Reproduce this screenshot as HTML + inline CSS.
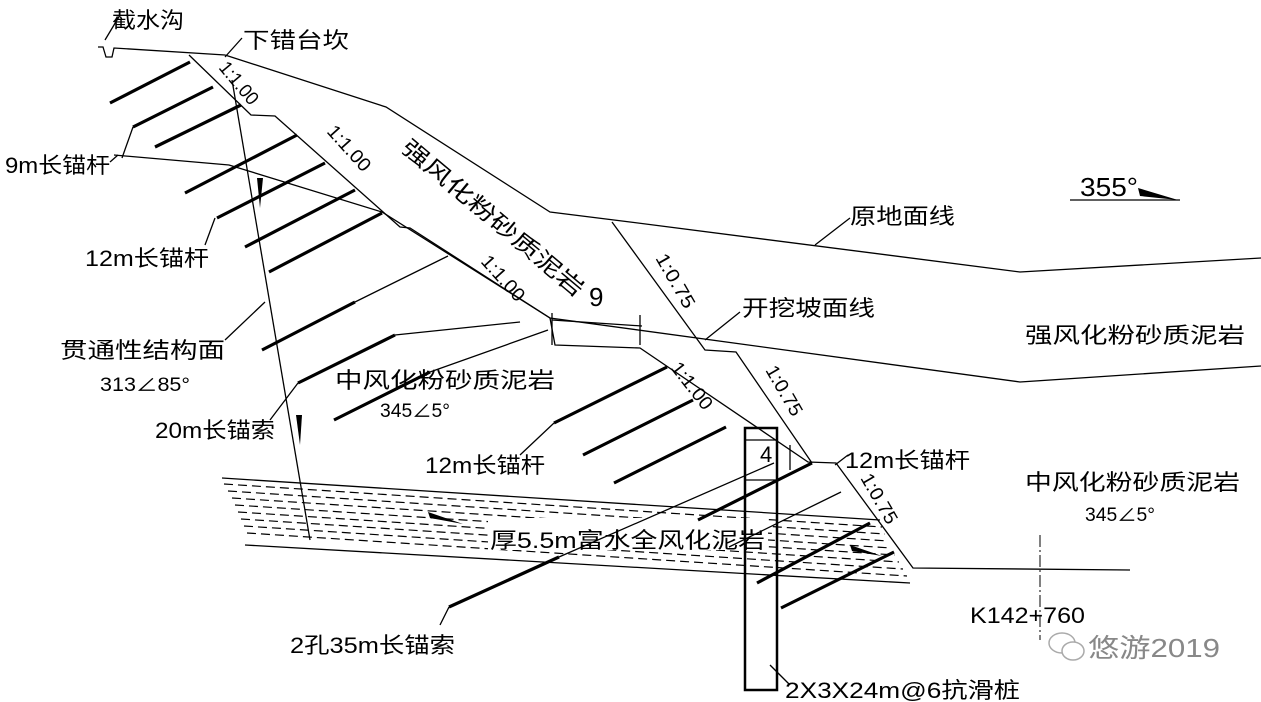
<!DOCTYPE html>
<html><head><meta charset="utf-8"><style>
html,body{margin:0;padding:0;background:#fff;}
svg{display:block;}
text{font-family:"Liberation Sans","Noto Sans CJK SC",sans-serif;fill:#000;}
.l{stroke:#000;stroke-width:1.3;fill:none;}
.t{stroke:#000;stroke-width:3.2;fill:none;}
.d{stroke:#000;stroke-width:1.2;stroke-dasharray:9 5;fill:none;}
</style></head><body>
<svg width="1261" height="702" viewBox="0 0 1261 702" xmlns="http://www.w3.org/2000/svg">
<polyline class="l" points="98,47 103,47 106,57 112,57 114,48 225,55"/>
<polyline class="l" points="225,55 386,107 550,212 630,222 1020,272 1261,258"/>
<polyline class="l" points="189,55 251,115 275,116 400,227 410,228 550,318 555,345 640,348 808,462 836,463 913,568 1130,570"/>
<polyline class="l" points="612,222 705,350 736,352 812,463"/>
<polyline class="l" points="114,155 229,165 382,212 550,318 1020,382 1261,366"/>
<line class="l" x1="552" y1="320" x2="642" y2="326"/>
<line class="l" x1="552" y1="313" x2="552" y2="345"/>
<line class="l" x1="640" y1="315" x2="640" y2="345"/>
<line class="l" x1="232" y1="80" x2="310" y2="540"/>
<polygon points="257,178 263,178 260,208" fill="#000"/>
<polygon points="296,415 302,415 300,445" fill="#000"/>
<g class="d">
<line x1="224" y1="484" x2="882" y2="527"/>
<line x1="228" y1="491" x2="885" y2="534"/>
<line x1="232" y1="498" x2="888" y2="541"/>
<line x1="235" y1="505" x2="891" y2="548"/>
<line x1="238" y1="512" x2="895" y2="555"/>
<line x1="241" y1="519" x2="899" y2="562"/>
<line x1="244" y1="526" x2="903" y2="569"/>
<line x1="247" y1="533" x2="907" y2="576"/>
</g>
<line class="l" x1="222" y1="478" x2="880" y2="520"/>
<line class="l" x1="245" y1="545" x2="910" y2="583"/>
<rect x="488" y="518" width="280" height="32" fill="#fff"/>
<polygon points="428,512 463,524 430,518" fill="#000"/>
<polygon points="850,545 882,556 852,551" fill="#000"/>
<line class="t" x1="110" y1="103" x2="190" y2="62"/>
<line class="t" x1="133" y1="127" x2="213" y2="87"/>
<line class="t" x1="155" y1="147" x2="241" y2="105"/>
<line class="t" x1="185" y1="193" x2="297" y2="135"/>
<line class="t" x1="217" y1="218" x2="325" y2="163"/>
<line class="t" x1="245" y1="247" x2="355" y2="190"/>
<line class="t" x1="269" y1="272" x2="382" y2="213"/>
<line class="t" x1="262" y1="350" x2="355" y2="302"/><line class="l" x1="355" y1="302" x2="448" y2="256"/>
<line class="t" x1="298" y1="383" x2="395" y2="335"/><line class="l" x1="395" y1="335" x2="520" y2="322"/>
<line class="t" x1="334" y1="420" x2="430" y2="372"/><line class="l" x1="430" y1="372" x2="548" y2="330"/>
<line class="t" x1="554" y1="423" x2="667" y2="367"/>
<line class="t" x1="583" y1="455" x2="693" y2="400"/>
<line class="t" x1="614" y1="483" x2="726" y2="427"/>
<line class="t" x1="449" y1="607" x2="559" y2="557"/><line class="l" x1="559" y1="557" x2="774" y2="463"/>
<line class="t" x1="698" y1="520" x2="812" y2="463"/>
<line class="l" x1="729" y1="547" x2="841" y2="492"/>
<line class="t" x1="757" y1="583" x2="870" y2="523"/>
<line class="t" x1="781" y1="608" x2="894" y2="552"/>
<rect x="745" y="428" width="32" height="262" fill="none" stroke="#000" stroke-width="2.5"/>
<line class="l" x1="745" y1="440" x2="777" y2="440"/>
<line class="l" x1="745" y1="480" x2="777" y2="480"/>
<line class="l" x1="790" y1="445" x2="790" y2="470"/>
<line x1="1040" y1="535" x2="1040" y2="640" stroke="#000" stroke-width="1" stroke-dasharray="12 3 2 3"/>
<line class="l" x1="1070" y1="200" x2="1180" y2="200"/>
<polygon points="1138,188 1178,200 1140,196" fill="#000"/>
<polyline class="l" points="120,15 105,40"/>
<polyline class="l" points="242,38 225,57"/>
<polyline class="l" points="110,162 118,155"/>
<polyline class="l" points="122,158 133,127"/>
<polyline class="l" points="205,245 215,218"/>
<polyline class="l" points="225,340 265,302"/>
<polyline class="l" points="270,420 298,383"/>
<polyline class="l" points="520,455 554,423"/>
<polyline class="l" points="440,625 449,607"/>
<polyline class="l" points="850,218 815,245"/>
<polyline class="l" points="740,312 705,340"/>
<polyline class="l" points="848,455 835,465"/>
<polyline class="l" points="790,685 770,665"/>
<g font-size="22">
<text x="112" y="28" textLength="72" lengthAdjust="spacingAndGlyphs">截水沟</text>
<text x="243" y="48" textLength="106" lengthAdjust="spacingAndGlyphs">下错台坎</text>
<text x="5" y="173" textLength="105" lengthAdjust="spacingAndGlyphs">9m长锚杆</text>
<text x="85" y="266" textLength="124" lengthAdjust="spacingAndGlyphs">12m长锚杆</text>
<text x="60" y="358" textLength="165" lengthAdjust="spacingAndGlyphs">贯通性结构面</text>
<text x="100" y="391" font-size="19" textLength="90" lengthAdjust="spacingAndGlyphs">313∠85°</text>
<text x="155" y="438" textLength="120" lengthAdjust="spacingAndGlyphs">20m长锚索</text>
<text x="335" y="388" textLength="220" lengthAdjust="spacingAndGlyphs">中风化粉砂质泥岩</text>
<text x="380" y="417" font-size="19" textLength="70" lengthAdjust="spacingAndGlyphs">345∠5°</text>
<text x="425" y="473" textLength="120" lengthAdjust="spacingAndGlyphs">12m长锚杆</text>
<text x="490" y="548" textLength="275" lengthAdjust="spacingAndGlyphs">厚5.5m富水全风化泥岩</text>
<text x="290" y="653" textLength="165" lengthAdjust="spacingAndGlyphs">2孔35m长锚索</text>
<text x="785" y="698" textLength="235" lengthAdjust="spacingAndGlyphs">2X3X24m@6抗滑桩</text>
<text x="845" y="468" textLength="125" lengthAdjust="spacingAndGlyphs">12m长锚杆</text>
<text x="1025" y="490" textLength="215" lengthAdjust="spacingAndGlyphs">中风化粉砂质泥岩</text>
<text x="1085" y="521" font-size="19" textLength="70" lengthAdjust="spacingAndGlyphs">345∠5°</text>
<text x="1025" y="343" textLength="220" lengthAdjust="spacingAndGlyphs">强风化粉砂质泥岩</text>
<text x="742" y="316" textLength="133" lengthAdjust="spacingAndGlyphs">开挖坡面线</text>
<text x="850" y="224" textLength="105" lengthAdjust="spacingAndGlyphs">原地面线</text>
<text x="1080" y="196" font-size="26" textLength="58" lengthAdjust="spacingAndGlyphs">355°</text>
<text x="970" y="623" textLength="115" lengthAdjust="spacingAndGlyphs">K142+760</text>
<text x="589" y="306" font-size="26">9</text>
<text x="760" y="462" font-size="22">4</text>
<text x="1088" y="657" font-size="26" style="fill:#888" textLength="132" lengthAdjust="spacingAndGlyphs">悠游2019</text>
<text transform="translate(400,150) rotate(40)" textLength="230" lengthAdjust="spacingAndGlyphs">强风化粉砂质泥岩</text>
</g>
<ellipse cx="1062" cy="643" rx="13" ry="10" fill="none" stroke="#aaa" stroke-width="1.5"/>
<ellipse cx="1073" cy="651" rx="11" ry="9" fill="#fff" stroke="#aaa" stroke-width="1.5"/>
<g font-size="19">
<text transform="translate(218,68) rotate(50)" textLength="50" lengthAdjust="spacingAndGlyphs">1:1.00</text>
<text transform="translate(326,132) rotate(48)" textLength="55" lengthAdjust="spacingAndGlyphs">1:1.00</text>
<text transform="translate(480,262) rotate(48)" textLength="55" lengthAdjust="spacingAndGlyphs">1:1.00</text>
<text transform="translate(670,368) rotate(52)" textLength="55" lengthAdjust="spacingAndGlyphs">1:1.00</text>
<text transform="translate(655,258) rotate(60)" textLength="60" lengthAdjust="spacingAndGlyphs">1:0.75</text>
<text transform="translate(765,370) rotate(60)" textLength="55" lengthAdjust="spacingAndGlyphs">1:0.75</text>
<text transform="translate(860,478) rotate(60)" textLength="55" lengthAdjust="spacingAndGlyphs">1:0.75</text>
</g>
</svg>
</body></html>
